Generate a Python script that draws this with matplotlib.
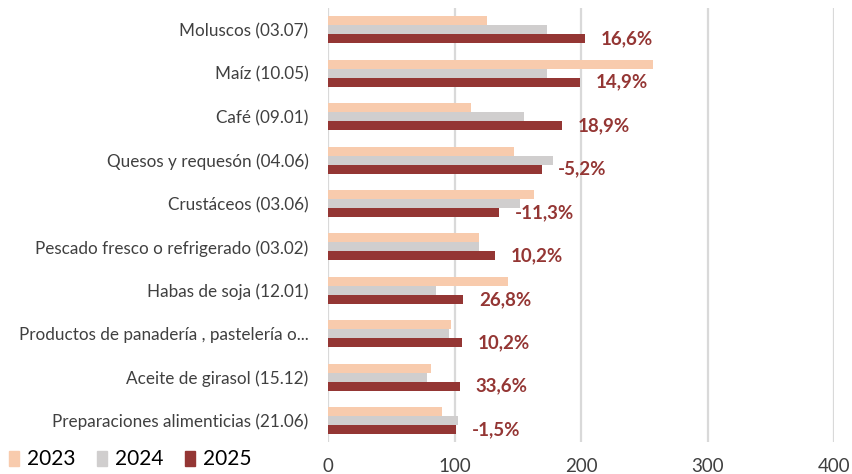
import matplotlib
matplotlib.use("Agg")
import matplotlib.pyplot as plt
import numpy as np
from matplotlib.patches import Patch

# ===== DATA

categories = [
    'Moluscos (03.07)',
    'Maíz (10.05)',
    'Café (09.01)',
    'Quesos y requesón (04.06)',
    'Crustáceos (03.06)',
    'Pescado fresco o refrigerado (03.02)',
    'Habas de soja (12.01)',
    'Productos de panadería , pastelería o...',
    'Aceite de girasol (15.12)',
    'Preparaciones alimenticias (21.06)',
]
v2023 = [126, 257, 113, 147, 163, 119, 142, 97, 81, 90]
v2024 = [173, 173, 155, 178, 152, 119, 85, 96, 78, 103]
v2025 = [203, 199, 185, 169, 135, 132, 107, 106, 104, 101]
pct_labels = ['16,6%', '14,9%', '18,9%', '-5,2%', '-11,3%',
              '10,2%', '26,8%', '10,2%', '33,6%', '-1,5%']
years = ['2023', '2024', '2025']
xticks = [0, 100, 200, 300, 400]

# ===== DISPLAY

c23 = '#F8CBAD'
c24 = '#D0CECE'
c25 = '#943634'
font = 'Lato'
plt.rcParams['font.family'] = [font, 'DejaVu Sans']

fig = plt.figure(figsize=(8.52, 4.74), dpi=100)
ax = fig.add_axes([0.385, 0.067, 0.594, 0.916])

y = np.arange(len(categories))
h = 0.207
ax.barh(y - h, v2023, height=h, color=c23, zorder=3)
ax.barh(y, v2024, height=h, color=c24, zorder=3)
bars = ax.barh(y + h, v2025, height=h, color=c25, zorder=3)

for b, lab in zip(bars, pct_labels):
    ax.annotate(lab, (b.get_width(), b.get_y() + b.get_height() / 2),
                xytext=(11.5, 0), textcoords='offset points',
                ha='left', va='center', color=c25,
                fontsize=13.5, fontweight='bold')

ax.set_xlim(0, 400)
ax.set_ylim(len(categories) - 0.5, -0.5)
ax.set_xticks(xticks)
ax.set_yticks(y, labels=categories)
ax.tick_params(axis='y', length=0, pad=14, labelsize=12.3, labelcolor='#404040')
ax.tick_params(axis='x', length=0, pad=11, labelsize=13.5, labelcolor='#404040')

for s in ax.spines.values():
    s.set_visible(False)
ax.xaxis.grid(True, color='#D9D9D9', linewidth=1.6, zorder=0)
ax.set_axisbelow(True)

handles = [Patch(color=c) for c in (c23, c24, c25)]
fig.legend(handles, years, loc='lower left', bbox_to_anchor=(-0.012, -0.03),
           ncol=3, frameon=False, fontsize=15, handlelength=0.5,
           handleheight=0.75, handletextpad=0.4, columnspacing=1.0)

plt.savefig('out.png', dpi=100)
